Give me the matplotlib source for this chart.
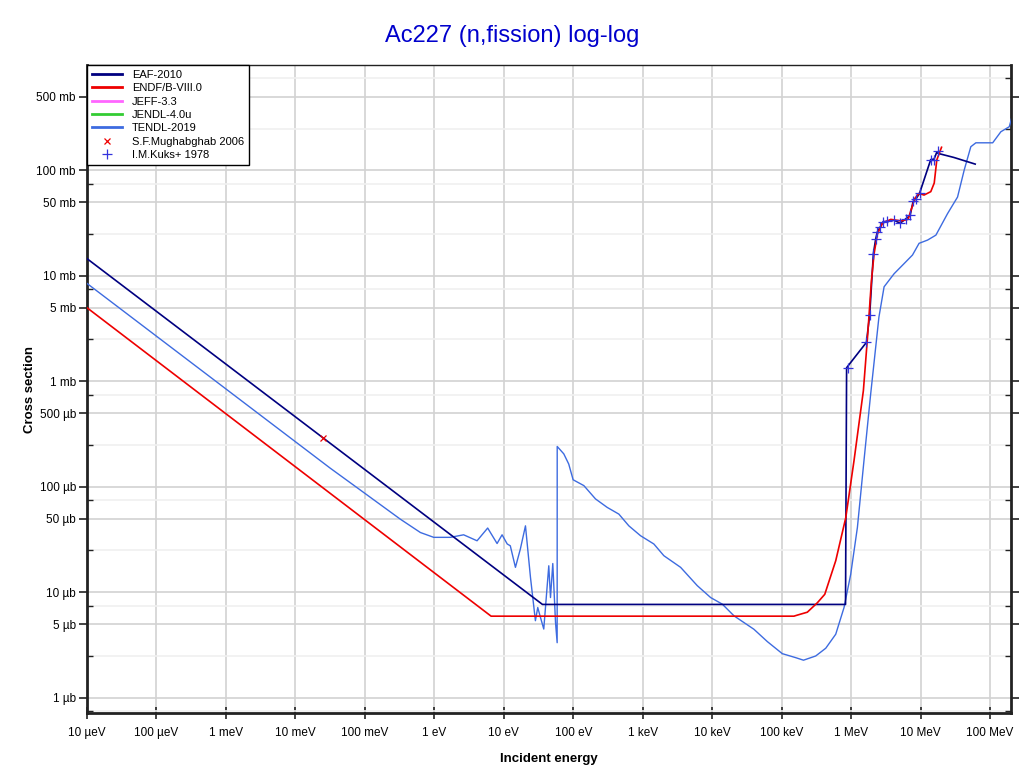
import numpy as np
import matplotlib
matplotlib.use('Agg')
import matplotlib.pyplot as plt
from matplotlib.ticker import FixedLocator, NullFormatter

plt.rcParams['font.family'] = ['Liberation Sans', 'DejaVu Sans']

# energies in eV, cross sections in barn
eaf_e = [1e-5, 36, 8.3e5, 8.6e5, 1.66e6, 1.85e6, 2.09e6, 2.26e6, 2.39e6, 2.61e6, 2.88e6,
         4.15e6, 5.07e6, 6.12e6, 7.06e6, 7.80e6, 8.61e6, 9.64e6, 1.40e7, 1.56e7, 1.70e7,
         1.80e7, 3.0e7, 6.1e7]
eaf_xs = [14.6e-3, 7.7e-6, 7.7e-6, 1.35e-3, 2.35e-3, 4.3e-3, 16.3e-3, 22.6e-3, 26.3e-3, 29e-3,
          32.6e-3, 33.8e-3, 31.6e-3, 34.8e-3, 37.5e-3, 51e-3, 54e-3, 60.6e-3, 127e-3, 128e-3,
          148e-3, 145e-3, 133e-3, 115e-3]

endf_e = [1e-5, 6.56, 1.5e5, 1.68e5, 2.34e5, 3.27e5, 4.17e5, 6.0e5, 8.36e5, 1.10e6, 1.50e6,
          1.72e6, 1.96e6, 2.14e6, 2.39e6, 2.82e6, 3.72e6, 5.19e6, 6.6e6, 7.4e6, 8.24e6,
          9.5e6, 1.12e7, 1.40e7, 1.57e7, 1.71e7, 2.0e7]
endf_xs = [5.0e-3, 5.96e-6, 5.96e-6, 6.1e-6, 6.5e-6, 8.0e-6, 9.6e-6, 2.0e-5, 5.1e-5, 1.78e-4,
           8.2e-4, 2.63e-3, 9.1e-3, 16.3e-3, 25e-3, 31.6e-3, 34.4e-3, 33.3e-3, 34.4e-3,
           43.6e-3, 54.3e-3, 60.7e-3, 58.5e-3, 63e-3, 76e-3, 126e-3, 166e-3]

tendl_e = [1e-5, 0.0316, 0.1, 0.324, 0.63, 0.98, 1.70, 2.64, 4.12, 5.86, 8.0, 9.44, 11.2,
           12.4, 14.7, 17.3, 20.5, 24.2, 28.5, 30.8, 33.7, 37.6, 44.4, 47.0, 50.7, 55.5,
           58.6, 58.7, 73, 86, 99.5, 142, 209, 308, 453, 631, 929, 1445, 2014, 3508, 6095,
           9484, 1.40e4, 2.06e4, 3.98e4, 6.22e4, 1.02e5, 1.59e5, 2.06e5, 3.09e5, 4.31e5,
           6.0e5, 7.9e5, 9.86e5, 1.23e6, 1.53e6, 1.91e6, 2.51e6, 2.98e6, 4.15e6, 5.78e6,
           7.64e6, 9.5e6, 1.26e7, 1.66e7, 2.44e7, 3.4e7, 4.24e7, 5.28e7, 6.24e7, 1.09e8,
           1.43e8, 1.89e8, 2.04e8]
tendl_xs = [8.5e-3, 1.51e-4, 8.7e-5, 4.95e-5, 3.7e-5, 3.33e-5, 3.33e-5, 3.52e-5, 3.09e-5,
            4.08e-5, 2.91e-5, 3.52e-5, 2.88e-5, 2.77e-5, 1.73e-5, 2.58e-5, 4.28e-5, 1.39e-5,
            5.4e-6, 7.2e-6, 5.8e-6, 4.5e-6, 1.79e-5, 8.95e-6, 1.88e-5, 5.2e-6, 3.34e-6,
            2.42e-4, 2.06e-4, 1.65e-4, 1.17e-4, 1.03e-4, 7.7e-5, 6.4e-5, 5.53e-5, 4.28e-5,
            3.45e-5, 2.88e-5, 2.23e-5, 1.73e-5, 1.16e-5, 8.95e-6, 7.74e-6, 6.0e-6, 4.48e-6,
            3.42e-6, 2.63e-6, 2.41e-6, 2.28e-6, 2.5e-6, 2.96e-6, 4.02e-6, 7.2e-6, 1.49e-5,
            4.13e-5, 1.78e-4, 7.6e-4, 4.07e-3, 7.9e-3, 1.05e-2, 1.31e-2, 1.58e-2, 2.04e-2,
            2.19e-2, 2.44e-2, 3.9e-2, 5.6e-2, 0.101, 0.168, 0.183, 0.183, 0.233, 0.26, 0.313]

mugh_e = [0.0253]
mugh_xs = [0.29e-3]

kuks_e = [8.9e5, 1.66e6, 1.85e6, 2.09e6, 2.26e6, 2.39e6, 2.61e6, 2.88e6, 3.3e6, 4.15e6,
          5.07e6, 6.12e6, 7.06e6, 7.80e6, 8.61e6, 9.64e6, 1.40e7, 1.56e7, 1.75e7]
kuks_xs = [1.35e-3, 2.35e-3, 4.3e-3, 16.3e-3, 22.6e-3, 26.3e-3, 29e-3, 32.6e-3, 33.5e-3,
           33.8e-3, 31.6e-3, 34.8e-3, 37.5e-3, 51e-3, 54e-3, 60.6e-3, 127e-3, 127e-3, 154e-3]

x_ticks = [1e-5, 1e-4, 1e-3, 1e-2, 1e-1, 1, 10, 100, 1e3, 1e4, 1e5, 1e6, 1e7, 1e8]
x_labels = ['10 µeV', '100 µeV', '1 meV', '10 meV', '100 meV', '1 eV', '10 eV', '100 eV',
            '1 keV', '10 keV', '100 keV', '1 MeV', '10 MeV', '100 MeV']
y_ticks = [1e-6, 5e-6, 1e-5, 5e-5, 1e-4, 5e-4, 1e-3, 5e-3, 1e-2, 5e-2, 1e-1, 5e-1]
y_labels = ['1 µb', '5 µb', '10 µb', '50 µb', '100 µb', '500 µb', '1 mb', '5 mb', '10 mb',
            '50 mb', '100 mb', '500 mb']

fig = plt.figure(figsize=(10.24, 7.74), dpi=100)
ax = fig.add_axes([87 / 1024, 1 - 713 / 774, 924 / 1024, 648 / 774])

ax.plot(eaf_e, eaf_xs, color='#000080', lw=1.2, label='EAF-2010', zorder=4)
ax.plot(endf_e, endf_xs, color='#ee0000', lw=1.2, label='ENDF/B-VIII.0', zorder=5)
ax.plot([], [], color='#ff66ff', lw=1.5, label='JEFF-3.3')
ax.plot([], [], color='#33cc33', lw=1.5, label='JENDL-4.0u')
ax.plot(tendl_e, tendl_xs, color='#3d6be0', lw=1.0, label='TENDL-2019', zorder=3)
ax.plot(mugh_e, mugh_xs, ls='none', marker='x', color='#ee0000', ms=5, mew=0.9,
        label='S.F.Mughabghab 2006', zorder=6)
ax.plot(kuks_e, kuks_xs, ls='none', marker='+', color='#3333dd', ms=7, mew=0.9,
        label='I.M.Kuks+ 1978', zorder=6)

ax.set_xscale('log')
ax.set_yscale('log')
ax.set_xlim(1e-5, 2e8)
ax.set_ylim(0.72e-6, 1.0)

ax.xaxis.set_major_locator(FixedLocator(x_ticks))
ax.set_xticklabels(x_labels)
ax.xaxis.set_minor_locator(FixedLocator([]))
ax.yaxis.set_major_locator(FixedLocator(y_ticks))
ax.set_yticklabels(y_labels)
minors = [m * 10.0 ** k for k in range(-7, 0) for m in (2.5, 7.5)]
ax.yaxis.set_minor_locator(FixedLocator(minors))
ax.yaxis.set_minor_formatter(NullFormatter())

ax.tick_params(axis='x', which='major', direction='inout', length=8, width=1.2,
               labelsize=8.5, colors='#222222', labelcolor='black', pad=6)
ax.tick_params(axis='y', which='major', direction='out', length=6, width=1.2,
               labelsize=8.5, right=True, colors='#222222', labelcolor='black', pad=2)
ax.tick_params(axis='y', which='minor', direction='in', length=4, width=1.0,
               right=True, colors='#222222')

ax.grid(True, which='major', color='#d2d2d2', lw=1.2, zorder=0)
ax.grid(True, which='minor', axis='y', color='#f0f0f0', lw=1.2, zorder=0)
ax.set_axisbelow(True)

for side in ['left', 'bottom', 'right']:
    ax.spines[side].set_linewidth(2)
    ax.spines[side].set_color('#222222')
ax.spines['top'].set_linewidth(1)
ax.spines['top'].set_color('#222222')

ax.set_xlabel('Incident energy', fontsize=9.5, fontweight='bold', labelpad=10)
ax.set_ylabel('Cross section', fontsize=9.5, fontweight='bold', labelpad=0)
fig.text(0.5, 1 - 36 / 774, 'Ac227 (n,fission) log-log', ha='center', va='center',
         fontsize=17, color='#0000cc')

leg = ax.legend(loc='upper left', borderaxespad=0, fancybox=False, framealpha=1,
                edgecolor='black', fontsize=8, labelspacing=0.3, handlelength=2.7,
                borderpad=0.45, handletextpad=0.9)
leg.get_frame().set_linewidth(1.0)
leg.set_zorder(10)
for line in leg.get_lines()[:5]:
    line.set_linewidth(2)

fig.savefig('out.png', dpi=100)
